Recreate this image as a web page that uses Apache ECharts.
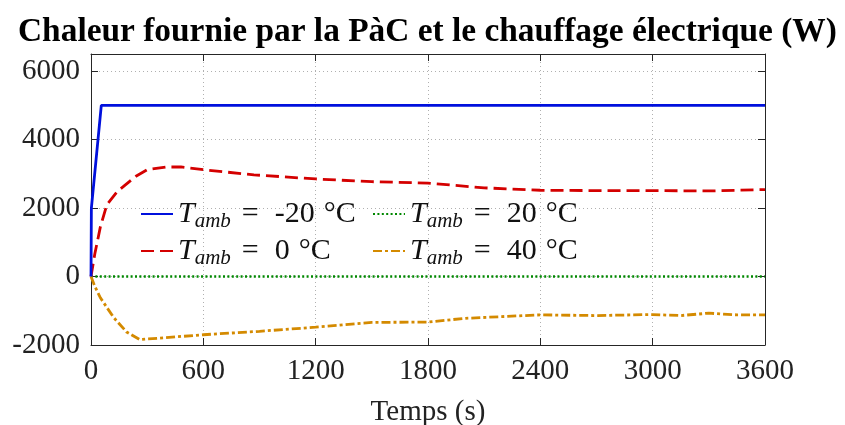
<!DOCTYPE html>
<html><head><meta charset="utf-8">
<script src="https://cdn.jsdelivr.net/npm/echarts@6/dist/echarts.min.js"></script>
<style>html,body{margin:0;padding:0;background:#fff}#c{width:845px;height:425px}</style>
</head><body><div id="c"></div>
<script>
const titleText = 'Chaleur fournie par la PàC et le chauffage électrique (W)';
const xName = 'Temps (s)';
const seriesNames = ['T_amb = -20 °C', 'T_amb = 20 °C', 'T_amb = 0 °C', 'T_amb = 40 °C'];
const legendValues = ['-20', '20', '0', '40'];

const tM20 = [0, 2, 55, 3600];
const wM20 = [0, 2000, 5000, 5000];

const t20 = [0, 3600];
const w20 = [0, 0];

const t0 = [0, 20, 50, 85, 140, 240, 300, 400, 480, 600, 870, 1200, 1500, 1800, 2100, 2400, 2700, 3000, 3300, 3600];
const w0 = [0, 650, 1450, 2100, 2480, 2930, 3120, 3200, 3200, 3120, 2970, 2850, 2770, 2730, 2590, 2520, 2510, 2510, 2500, 2540];

const t40 = [0, 20, 50, 120, 190, 260, 390, 600, 900, 1200, 1500, 1800, 2000, 2400, 2700, 3000, 3150, 3300, 3450, 3600];
const w40 = [0, -280, -620, -1190, -1620, -1840, -1790, -1700, -1600, -1480, -1340, -1330, -1220, -1120, -1140, -1110, -1140, -1070, -1120, -1120];

const zip = (a, b) => a.map((v, i) => [v, b[i]]);

const serif = 'Liberation Serif, Times New Roman, serif';
const colors = ['#0010dd', '#008800', '#d40000', '#d48a00'];
const styles = [
  {type: 'solid', width: 2.8},
  {type: [2, 2.4], width: 2.6},
  {type: [13, 6], width: 2.8},
  {type: [9, 3, 3, 3], width: 2.8}
];
const datas = [zip(tM20, wM20), zip(t20, w20), zip(t0, w0), zip(t40, w40)];

const legendPos = [[140, 199], [372, 199], [140, 236], [372, 236]];

const rich = {
  t: {fontFamily: serif, fontStyle: 'italic', fontSize: 30, color: '#111'},
  s: {fontFamily: serif, fontStyle: 'italic', fontSize: 21, color: '#111', padding: [14, 0, 0, 0]},
  e: {fontFamily: serif, fontSize: 30, color: '#111', padding: [0, 16, 0, 11]},
  v: {fontFamily: serif, fontSize: 30, color: '#111'},
  d: {fontFamily: serif, fontSize: 30, color: '#111', padding: [0, 0, 0, 9]}
};

const legends = seriesNames.map((name, i) => ({
  show: true,
  data: [name],
  left: legendPos[i][0],
  top: legendPos[i][1],
  itemWidth: 32,
  itemHeight: 14,
  padding: 0,
  itemStyle: {opacity: 0, borderWidth: 0},
  formatter: () => '{t|T}{s|amb}{e|=}{v|' + legendValues[i] + '}{d|°C}',
  textStyle: {rich: rich},
  selectedMode: false
}));

const gridLine = {show: true, lineStyle: {color: '#b0b0b0', type: [1, 3], width: 1}};
const axLine = {show: true, onZero: false, lineStyle: {color: '#262626', width: 1}};
const tick = {show: true, inside: true, length: 7, lineStyle: {color: '#262626', width: 1}};
const plain = v => String(v);

const option = {
  animation: false,
  backgroundColor: '#fff',
  title: {
    text: titleText, left: 13, top: 11,
    textStyle: {fontFamily: serif, fontWeight: 'bold', fontSize: 33.4, color: '#000'}
  },
  legend: legends,
  grid: {left: 91, right: 80, top: 54, bottom: 80, containLabel: false, outerBoundsMode: 'none'},
  xAxis: [{
    type: 'value', min: 0, max: 3600, interval: 600, position: 'bottom',
    name: xName, nameLocation: 'middle', nameGap: 53,
    nameTextStyle: {fontFamily: serif, fontSize: 29, color: '#222'},
    axisLine: axLine, axisTick: tick, splitLine: gridLine,
    axisLabel: {fontFamily: serif, fontSize: 29, color: '#222', margin: 12, formatter: plain}
  }, {
    type: 'value', min: 0, max: 3600, interval: 600, position: 'top',
    axisLine: axLine, axisTick: tick, splitLine: {show: false}, axisLabel: {show: false}
  }],
  yAxis: [{
    type: 'value', min: -2000, max: 6500, interval: 2000, position: 'left',
    axisLine: axLine, axisTick: tick, splitLine: gridLine,
    axisLabel: {fontFamily: serif, fontSize: 29, color: '#222', margin: 11, showMaxLabel: false, formatter: plain}
  }, {
    type: 'value', min: -2000, max: 6500, interval: 2000, position: 'right',
    axisLine: axLine, axisTick: tick, splitLine: {show: false}, axisLabel: {show: false}
  }],
  series: seriesNames.map((name, i) => ({
    name: name, type: 'line', data: datas[i], showSymbol: false, symbol: 'none',
    xAxisIndex: 0, yAxisIndex: 0,
    color: colors[i],
    lineStyle: {color: colors[i], type: styles[i].type, width: styles[i].width},
    z: [4, 2, 3, 3][i]
  }))
};
echarts.init(document.getElementById('c'), null, {renderer: 'canvas'}).setOption(option);
</script></body></html>
